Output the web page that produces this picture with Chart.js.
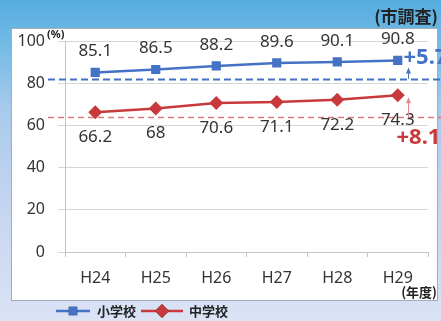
<!DOCTYPE html>
<html>
<head>
<meta charset="utf-8">
<script src="https://cdn.jsdelivr.net/npm/chart.js@4.4.1/dist/chart.umd.min.js"></script>
<style>
  html, body { margin: 0; padding: 0; }
  body {
    width: 441px; height: 321px; overflow: hidden; position: relative;
    background: linear-gradient(to bottom, #55ace0 0%, #6fb9e5 12%, #a9cbec 35%, #c6d5f0 65%, #dbe3f5 100%);
  }
  #panel {
    position: absolute; left: 11px; top: 28px; width: 425px; height: 271px;
    background: #fff; border: 1px solid #a4acb8;
  }
  #wrap { position: absolute; left: 0; top: 0; width: 441px; height: 321px; }
</style>
</head>
<body>
<div id="panel"></div>
<div id="wrap"><canvas id="chart" width="441" height="321"></canvas></div>
<script>
// Data
const years = ['H24', 'H25', 'H26', 'H27', 'H28', 'H29'];
const elementary = [85.1, 86.5, 88.2, 89.6, 90.1, 90.8];
const juniorHigh = [66.2, 68, 70.6, 71.1, 72.2, 74.3];
const seriesNames = ['小学校', '中学校'];
const baseLevels = [82, 64];      // dashed reference lines
const gainLabels = ['+5.7', '+8.1'];

const BLUE = '#4472c4';
const RED = '#c8393c';
const NUM_FONT = '"Noto Sans", "Open Sans", sans-serif';
const JP_FONT = '"Noto Sans CJK JP", sans-serif';

const overlay = {
    id: 'overlay',
    beforeDatasetsDraw(chart) {
        const { ctx, chartArea, scales: { y } } = chart;
        ctx.save();
        // dashed baselines
        const styles = [
            { color: BLUE, width: 2, dash: [7, 4] },
            { color: '#d97b7c', width: 1.5, dash: [6, 4] }
        ];
        baseLevels.forEach((v, i) => {
            const py = Math.round(y.getPixelForValue(v)) + 0.5;
            ctx.strokeStyle = styles[i].color;
            ctx.lineWidth = styles[i].width;
            ctx.setLineDash(styles[i].dash);
            ctx.beginPath();
            ctx.moveTo(chartArea.left - 17, py);
            ctx.lineTo(chart.width, py);
            ctx.stroke();
        });
        ctx.restore();
    },
    afterDatasetsDraw(chart) {
        const { ctx, chartArea, scales: { x, y } } = chart;
        ctx.save();

        // value labels
        ctx.font = '17px ' + NUM_FONT;
        ctx.fillStyle = '#333';
        ctx.textAlign = 'center';
        ctx.textBaseline = 'middle';
        elementary.forEach((v, i) => {
            ctx.fillText(v, x.getPixelForValue(i), y.getPixelForValue(v) - 21);
        });
        juniorHigh.forEach((v, i) => {
            ctx.fillText(v, x.getPixelForValue(i), y.getPixelForValue(v) + 25);
        });

        // arrows from the baseline up to the last value
        const last = years.length - 1;
        const ax = Math.round(x.getPixelForValue(last)) + 10.5;
        const arrows = [
            { from: baseLevels[0], to: elementary[last], color: BLUE, top: 8 },
            { from: baseLevels[1], to: juniorHigh[last], color: '#e08a8c', top: 3 }
        ];
        arrows.forEach(a => {
            const y0 = y.getPixelForValue(a.from);
            const y1 = y.getPixelForValue(a.to) + a.top;
            ctx.strokeStyle = a.color;
            ctx.fillStyle = a.color;
            ctx.lineWidth = 1;
            ctx.beginPath();
            ctx.moveTo(ax, y0);
            ctx.lineTo(ax, y1);
            ctx.stroke();
            ctx.beginPath();
            ctx.moveTo(ax, y1 - 1);
            ctx.lineTo(ax - 2.5, y1 + 5);
            ctx.lineTo(ax + 2.5, y1 + 5);
            ctx.closePath();
            ctx.fill();
        });

        // gain labels (run off the right edge as in the source)
        ctx.font = 'bold 22px ' + NUM_FONT;
        ctx.textAlign = 'left';
        ctx.fillStyle = BLUE;
        ctx.fillText(gainLabels[0], ax - 5, y.getPixelForValue(elementary[last]) - 3);
        ctx.fillStyle = RED;
        ctx.fillText(gainLabels[1], ax - 12, y.getPixelForValue(baseLevels[1]) + 21);

        // unit / source notes
        ctx.fillStyle = '#222';
        ctx.font = 'bold 11px ' + NUM_FONT;
        ctx.fillText('(%)', chartArea.left - 18, chartArea.top - 6);
        ctx.font = 'bold 17px ' + JP_FONT;
        ctx.textAlign = 'right';
        ctx.fillText('(市調査)', 438, 17);
        ctx.font = 'bold 13px ' + JP_FONT;
        ctx.fillText('(年度)', 437, 292);

        // legend
        const legendY = 311;
        const items = [
            { x0: 56, x1: 90, color: BLUE, style: 'rect', text: seriesNames[0], tx: 97 },
            { x0: 141, x1: 183, color: RED, style: 'rectRot', text: seriesNames[1], tx: 189 }
        ];
        items.forEach(it => {
            ctx.strokeStyle = it.color;
            ctx.lineWidth = 2.5;
            ctx.beginPath();
            ctx.moveTo(it.x0, legendY);
            ctx.lineTo(it.x1, legendY);
            ctx.stroke();
            Chart.helpers.drawPoint(ctx, {
                pointStyle: it.style, radius: it.style === 'rect' ? 6 : 7,
                borderWidth: 0, rotation: 0
            }, (it.x0 + it.x1) / 2, legendY);
            ctx.fillStyle = it.color;
            ctx.fill();
            ctx.fillStyle = '#222';
            ctx.font = 'bold 13px ' + JP_FONT;
            ctx.textAlign = 'left';
            ctx.fillText(it.text, it.tx, legendY);
        });

        ctx.restore();
    }
};

new Chart(document.getElementById('chart'), {
    type: 'line',
    data: {
        labels: years,
        datasets: [
            {
                label: seriesNames[0],
                data: elementary,
                borderColor: BLUE,
                backgroundColor: BLUE,
                borderWidth: 2.5,
                pointStyle: 'rect',
                pointRadius: 6.5,
                pointBorderWidth: 0,
                tension: 0
            },
            {
                label: seriesNames[1],
                data: juniorHigh,
                borderColor: RED,
                backgroundColor: RED,
                borderWidth: 2.5,
                pointStyle: 'rectRot',
                pointRadius: 7,
                pointBorderWidth: 0,
                tension: 0
            }
        ]
    },
    options: {
        responsive: false,
        animation: false,
        layout: { padding: { top: 41, right: 13, left: 0, bottom: 0 } },
        plugins: { legend: { display: false }, tooltip: { enabled: false } },
        scales: {
            x: {
                offset: true,
                grid: { offset: true, drawOnChartArea: false, drawTicks: true, tickLength: 5, color: '#c4c4c4' },
                border: { color: '#c4c4c4' },
                ticks: { color: '#333', font: { family: NUM_FONT, size: 16 }, padding: 12, maxRotation: 0 },
                afterFit(scale) { scale.height = 69; }
            },
            y: {
                min: 0,
                max: 100,
                ticks: { stepSize: 20, color: '#333', font: { family: NUM_FONT, size: 16 }, padding: 13 },
                grid: { color: '#d6d6d6', tickLength: 7 },
                border: { color: '#c4c4c4' },
                afterFit(scale) { scale.width = 65; }
            }
        }
    },
    plugins: [overlay]
});
</script>
</body>
</html>
